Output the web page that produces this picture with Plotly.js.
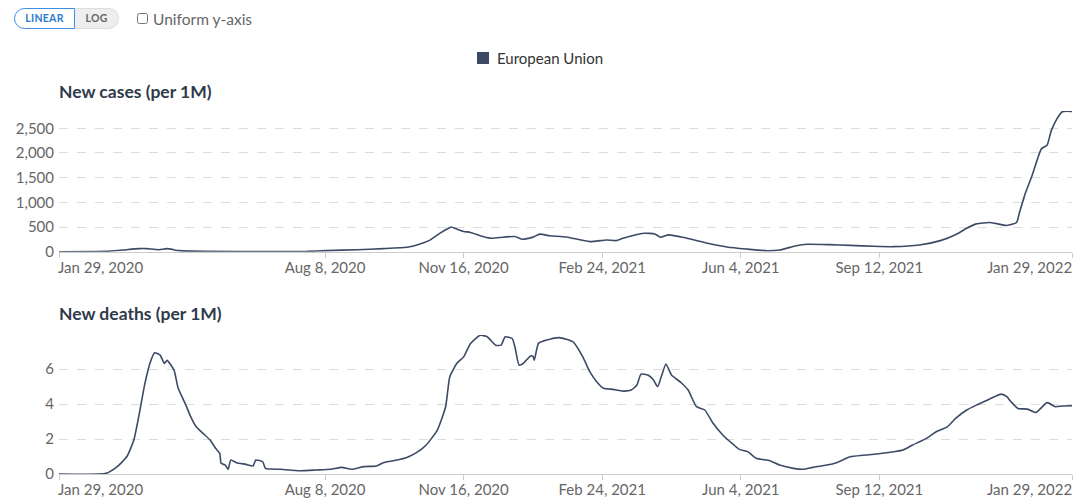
<!DOCTYPE html>
<html>
<head>
<meta charset="utf-8">
<script src="https://cdn.plot.ly/plotly-3.0.1.min.js"></script>
<style>
  body { margin: 0; background: #fff; font-family: Lato, "Noto Sans", sans-serif; }
  #chart { position: absolute; left: 0; top: 0; width: 1073px; height: 499px; }
  .controls { position: absolute; left: 14px; top: 8px; z-index: 5; display: flex; align-items: center; }
  .btn { height: 19px; line-height: 19px; font-size: 10.5px; font-weight: bold; letter-spacing: 0.3px; text-align: center; box-sizing: content-box; }
  .btn.on { width: 59px; border: 1px solid #3d8ee4; color: #2a7bd0; background: #fff; border-radius: 11px 0 0 11px; }
  .btn.off { width: 43px; border: 1px solid #ddd; border-left: none; color: #666; background: #eee; border-radius: 0 11px 11px 0; }
  .uniform { margin-left: 18px; display: flex; align-items: center; font-size: 15.5px; color: #666; }
  .uniform input { margin: 0 5px 0 0; width: 11px; height: 11px; }
</style>
</head>
<body>
<div class="controls">
  <div class="btn on">LINEAR</div><div class="btn off">LOG</div>
  <label class="uniform"><input type="checkbox">Uniform y-axis</label>
</div>
<div id="chart"></div>
<script>
// European Union, new cases per million (7-day smoothed)
const caseDates = [
  "2020-01-29", "2020-03-03", "2020-03-15", "2020-03-27", "2020-04-01", "2020-04-10",
  "2020-04-16", "2020-04-25", "2020-05-14", "2020-07-02", "2020-07-26", "2020-08-09",
  "2020-08-31", "2020-09-19", "2020-10-06", "2020-10-15", "2020-10-23", "2020-10-30",
  "2020-11-04", "2020-11-07", "2020-11-11", "2020-11-16", "2020-11-21", "2020-11-28",
  "2020-12-05", "2020-12-12", "2020-12-23", "2020-12-28", "2021-01-05", "2021-01-10",
  "2021-01-17", "2021-01-29", "2021-02-15", "2021-02-27", "2021-03-06", "2021-03-11",
  "2021-03-26", "2021-04-03", "2021-04-07", "2021-04-13", "2021-04-24", "2021-05-11",
  "2021-05-25", "2021-06-08", "2021-06-23", "2021-07-02", "2021-07-14", "2021-07-22",
  "2021-08-07", "2021-08-22", "2021-09-08", "2021-09-22", "2021-10-11", "2021-10-26",
  "2021-11-07", "2021-11-14", "2021-11-21", "2021-12-01", "2021-12-13", "2021-12-20",
  "2021-12-22", "2021-12-26", "2021-12-31", "2022-01-04", "2022-01-07", "2022-01-11",
  "2022-01-14", "2022-01-18", "2022-01-22", "2022-01-29",
];
const caseValues = [
  0, 7, 34, 62, 62, 41,
  62, 21, 7, 3, 7, 21,
  41, 62, 89, 151, 240, 377,
  459, 500, 459, 411, 390, 322,
  274, 288, 308, 253, 295, 356,
  322, 299, 204, 238, 224, 272,
  374, 360, 292, 340, 286, 170,
  95, 54, 20, 34, 122, 150,
  143, 129, 109, 102, 136, 224,
  360, 476, 564, 592, 530, 592,
  782, 1156, 1530, 1870, 2088, 2156,
  2448, 2686, 2836, 2840,
];

// European Union, new deaths per million
const deathDates = [
  "2020-01-29", "2020-03-03", "2020-03-11", "2020-03-18", "2020-03-23", "2020-03-27",
  "2020-03-31", "2020-04-04", "2020-04-07", "2020-04-11", "2020-04-14", "2020-04-16",
  "2020-04-21", "2020-04-24", "2020-04-29", "2020-05-03", "2020-05-07", "2020-05-12",
  "2020-05-17", "2020-05-21", "2020-05-24", "2020-05-25", "2020-05-28", "2020-05-30",
  "2020-06-01", "2020-06-05", "2020-06-12", "2020-06-17", "2020-06-19", "2020-06-24",
  "2020-06-26", "2020-07-07", "2020-07-21", "2020-08-02", "2020-08-12", "2020-08-20",
  "2020-08-27", "2020-09-05", "2020-09-14", "2020-09-19", "2020-09-29", "2020-10-06",
  "2020-10-13", "2020-10-20", "2020-10-28", "2020-11-03", "2020-11-06", "2020-11-11",
  "2020-11-16", "2020-11-21", "2020-11-28", "2020-12-03", "2020-12-09", "2020-12-13",
  "2020-12-16", "2020-12-21", "2020-12-23", "2020-12-26", "2020-12-29", "2021-01-03",
  "2021-01-05", "2021-01-06", "2021-01-09", "2021-01-15", "2021-01-24", "2021-02-03",
  "2021-02-10", "2021-02-15", "2021-02-20", "2021-02-25", "2021-03-04", "2021-03-11",
  "2021-03-17", "2021-03-21", "2021-03-24", "2021-03-29", "2021-04-02", "2021-04-05",
  "2021-04-08", "2021-04-11", "2021-04-15", "2021-04-22", "2021-04-27", "2021-05-03",
  "2021-05-09", "2021-05-15", "2021-05-22", "2021-05-30", "2021-06-03", "2021-06-09",
  "2021-06-15", "2021-06-25", "2021-07-02", "2021-07-12", "2021-07-19", "2021-07-26",
  "2021-08-05", "2021-08-12", "2021-08-22", "2021-08-31", "2021-09-10", "2021-09-20",
  "2021-09-29", "2021-10-06", "2021-10-16", "2021-10-23", "2021-10-31", "2021-11-06",
  "2021-11-14", "2021-11-21", "2021-11-28", "2021-12-04", "2021-12-09", "2021-12-13",
  "2021-12-16", "2021-12-21", "2021-12-28", "2022-01-03", "2022-01-11", "2022-01-17",
  "2022-01-22", "2022-01-29",
];
const deathValues = [
  0, 0.04, 0.42, 1.0, 1.94, 3.47,
  5.18, 6.42, 6.93, 6.8, 6.32, 6.5,
  5.94, 4.9, 4.04, 3.28, 2.7, 2.32,
  1.94, 1.47, 1.18, 0.61, 0.51, 0.27,
  0.8, 0.65, 0.55, 0.46, 0.8, 0.7,
  0.32, 0.27, 0.19, 0.23, 0.27, 0.38,
  0.27, 0.42, 0.46, 0.65, 0.8, 0.95,
  1.22, 1.66, 2.51, 3.85, 5.56, 6.32,
  6.7, 7.47, 7.94, 7.85, 7.37, 7.37,
  7.85, 7.75, 7.28, 6.23, 6.32, 6.74,
  6.74, 6.51, 7.47, 7.66, 7.8, 7.56,
  6.7, 5.85, 5.28, 4.9, 4.84, 4.74,
  4.8, 5.09, 5.71, 5.66, 5.37, 4.99,
  5.66, 6.29, 5.66, 5.22, 4.8, 3.85,
  3.66, 2.9, 2.23, 1.66, 1.41, 1.28,
  0.9, 0.76, 0.51, 0.32, 0.27, 0.38,
  0.51, 0.65, 0.99, 1.07, 1.14, 1.24,
  1.37, 1.66, 2.04, 2.42, 2.7, 3.18,
  3.66, 3.94, 4.19, 4.42, 4.57, 4.42,
  4.13, 3.75, 3.71, 3.52, 4.08, 3.85,
  3.89, 3.9,
];

const tickDates = ["2020-01-29", "2020-08-08", "2020-11-16", "2021-02-24", "2021-06-04", "2021-09-12", "2022-01-29"];
const tickLabels = ["Jan 29, 2020", "Aug 8, 2020", "Nov 16, 2020", "Feb 24, 2021", "Jun 4, 2021", "Sep 12, 2021", "Jan 29, 2022"];

const LINE = "#3c4b65";
const TICK_FONT = { size: 15, color: "#666" };
const W = 1073, H = 499;
const M = { l: 59, r: 1, t: 0, b: 25 };
const PH = H - M.t - M.b;
// pixel -> paper helpers for the decorations
const px = (x) => (x - M.l) / (W - M.l - M.r);
const py = (y) => (PH - y) / PH;

function xAxis(anchor) {
  return {
    anchor: anchor,
    type: "date",
    range: ["2020-01-29", "2022-01-29"],
    tickvals: tickDates,
    // edge labels are drawn as annotations (left/right aligned)
    ticktext: tickLabels.map((t, i) => (i === 0 || i === tickLabels.length - 1 ? "" : t)),
    showline: true,
    linecolor: "#ccc",
    linewidth: 1,
    ticks: "outside",
    ticklen: 5,
    tickcolor: "#ccc",
    ticklabelstandoff: -3,
    showgrid: false,
    zeroline: false,
    tickfont: TICK_FONT,
  };
}
function yAxis(domain, range, dtick, fmt) {
  return {
    domain: domain,
    range: range,
    dtick: dtick,
    tick0: 0,
    tickformat: fmt,
    showline: false,
    zeroline: false,
    gridcolor: "#ddd",
    griddash: "dash",
    gridwidth: 1,
    ticks: "",
    ticklabelstandoff: 4,
    tickfont: TICK_FONT,
  };
}

const lineStyle = { color: LINE, width: 1.6, shape: "spline", smoothing: 0.5 };
const traces = [
  { x: caseDates, y: caseValues, xaxis: "x", yaxis: "y", mode: "lines", line: lineStyle, name: "European Union" },
  { x: deathDates, y: deathValues, xaxis: "x2", yaxis: "y2", mode: "lines", line: lineStyle, name: "European Union" },
];

const edgeLabels = [];
[252, 474].forEach((axisY) => {
  edgeLabels.push(
    { xref: "paper", yref: "paper", x: 0, xshift: -3, y: py(axisY + 15), xanchor: "left", yanchor: "middle", text: tickLabels[0], showarrow: false, font: TICK_FONT },
    { xref: "paper", yref: "paper", x: 1, xshift: 2, y: py(axisY + 15), xanchor: "right", yanchor: "middle", text: tickLabels[tickLabels.length - 1], showarrow: false, font: TICK_FONT }
  );
});

const layout = {
  width: W,
  height: H,
  margin: M,
  paper_bgcolor: "#fff",
  plot_bgcolor: "#fff",
  font: { family: "Lato, 'Noto Sans', sans-serif", color: "#666" },
  showlegend: false,
  xaxis: xAxis("y"),
  xaxis2: xAxis("y2"),
  yaxis: yAxis([py(251.7), py(111)], [0, 2850], 500, ","),
  yaxis2: yAxis([0, py(335)], [0, 7.95], 2, ""),
  shapes: [
    { type: "rect", xref: "paper", yref: "paper", x0: px(477), x1: px(489), y0: py(64), y1: py(52), fillcolor: LINE, line: { width: 0 } },
  ],
  annotations: [
    { xref: "paper", yref: "paper", x: px(495), y: py(58), xanchor: "left", yanchor: "middle", text: "European Union", showarrow: false, font: { size: 15, color: "#333" } },
    { xref: "paper", yref: "paper", x: 0, xshift: -2, y: py(91), xanchor: "left", yanchor: "middle", text: "<b>New cases (per 1M)</b>", showarrow: false, font: { size: 17.5, color: "#2f3a4b" } },
    { xref: "paper", yref: "paper", x: 0, xshift: -2, y: py(313), xanchor: "left", yanchor: "middle", text: "<b>New deaths (per 1M)</b>", showarrow: false, font: { size: 17.5, color: "#2f3a4b" } },
    ...edgeLabels,
  ],
};

Plotly.newPlot("chart", traces, layout, { staticPlot: true, displayModeBar: false });
</script>
</body>
</html>
